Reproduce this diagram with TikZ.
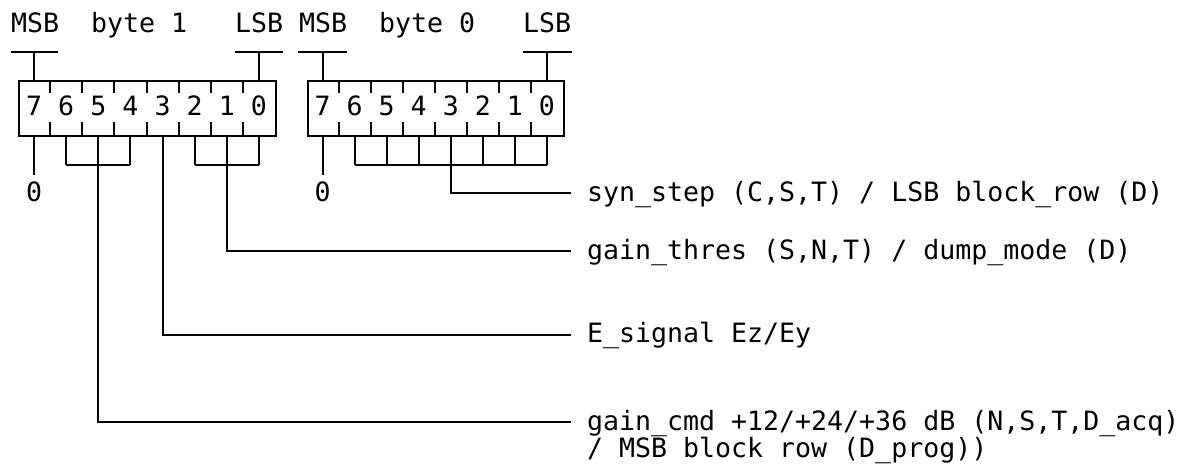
\documentclass[tikz,border=0pt]{standalone}
\usepackage{fontspec}
\setmonofont{DejaVu Sans Mono}
\begin{document}
\begin{tikzpicture}[x=1pt,y=-1pt,line width=2pt,
  txt/.style={font=\ttfamily\fontsize{26.6}{26.7}\selectfont,inner sep=0pt,anchor=base west},
  digit/.style={font=\ttfamily\fontsize{26.6}{26.7}\selectfont,inner sep=0pt,anchor=base},
  bytebox/.style={draw,line width=2pt,minimum width=#1,minimum height=55pt,inner sep=0pt,anchor=north west},
  wire/.style={line width=2pt}]
\useasboundingbox (0,0) rectangle (1190,464);

% ---------- top labels ----------
\node[txt] (msb1) at (10,32) {MSB};
\node[txt] (byte1) at (90,32) {byte 1};
\node[txt] (lsb1) at (234,32) {LSB};
\node[txt] (msb0) at (298,32) {MSB};
\node[txt] (byte0) at (378,32) {byte 0};
\node[txt] (lsb0) at (522,32) {LSB};

% ---------- boxes ----------
\node[bytebox=257pt] (box1) at (18,80) {};
\node[bytebox=256.5pt] (box0) at (306.5,80) {};

% bit centres, dividers and digits
\foreach \i in {0,...,7}{
  \pgfmathsetmacro{\xa}{18+32.125*(\i+0.5)}
  \pgfmathsetmacro{\xb}{306.5+32.06*(\i+0.5)}
  \pgfmathtruncatemacro{\b}{7-\i}
  \coordinate (a\b) at (\xa,135);
  \coordinate (c\b) at (\xb,135);
  \coordinate (ha\b) at (\xa,165);
  \coordinate (hc\b) at (\xb,165);
  \node[digit] (da\b) at (\xa,115) {\b};
  \node[digit] (dc\b) at (\xb,115) {\b};
}
\foreach \i in {1,...,7}{
  \pgfmathsetmacro{\xa}{18+32.125*\i}
  \pgfmathsetmacro{\xb}{306.5+32.06*\i}
  \draw[wire] (\xa,80) -- (\xa,93) (\xa,122) -- (\xa,135);
  \draw[wire] (\xb,80) -- (\xb,93) (\xb,122) -- (\xb,135);
}

% ---------- MSB / LSB bars ----------
\draw[wire] (11,51.7) -- (58,51.7) (a7 |- 0,51.7) -- (a7 |- box1.north);
\draw[wire] (235,51.7) -- (283,51.7) (a0 |- 0,51.7) -- (a0 |- box1.north);
\draw[wire] (298,51.7) -- (347,51.7) (c7 |- 0,51.7) -- (c7 |- box0.north);
\draw[wire] (523,51.7) -- (572,51.7) (c0 |- 0,51.7) -- (c0 |- box0.north);

% ---------- bit 7 -> 0 ----------
\draw[wire] (a7) -- ++(0,40);
\node[digit] (za) at (a7 |- 0,201) {0};
\draw[wire] (c7) -- ++(0,40);
\node[digit] (zc) at (c7 |- 0,201) {0};

% ---------- label texts ----------
\node[txt] (syn) at (586,201) {syn\_step (C,S,T) / LSB block\_row (D)};
\node[txt] (thr) at (586,259) {gain\_thres (S,N,T) / dump\_mode (D)};
\node[txt] (esig) at (586,342) {E\_signal Ez/Ey};
\node[txt] (gcmd) at (586,430) {gain\_cmd +12/+24/+36 dB (N,S,T,D\_acq)};
\node[txt] (gcmd2) at (586,457) {/ MSB block row (D\_prog))};

\coordinate (esyn) at (571,193);
\coordinate (ethr) at (571,251);
\coordinate (esg) at (571,335);
\coordinate (egcmd) at (571,422);

% ---------- byte 0 bits 6..0 ----------
\foreach \b in {6,...,0}{ \draw[wire] (c\b) -- (hc\b); }
\draw[wire] (hc6) -- (hc0);
\draw[wire] (hc3) |- (esyn);

% ---------- byte 1 bits 2..0 ----------
\foreach \b in {2,1,0}{ \draw[wire] (a\b) -- (ha\b); }
\draw[wire] (ha2) -- (ha0);
\draw[wire] (ha1) |- (ethr);

% ---------- byte 1 bit 3 ----------
\draw[wire] (a3) |- (esg);

% ---------- byte 1 bits 6..4 ----------
\foreach \b in {6,5,4}{ \draw[wire] (a\b) -- (ha\b); }
\draw[wire] (ha6) -- (ha4);
\draw[wire] (ha5) |- (egcmd);
\end{tikzpicture}
\end{document}
